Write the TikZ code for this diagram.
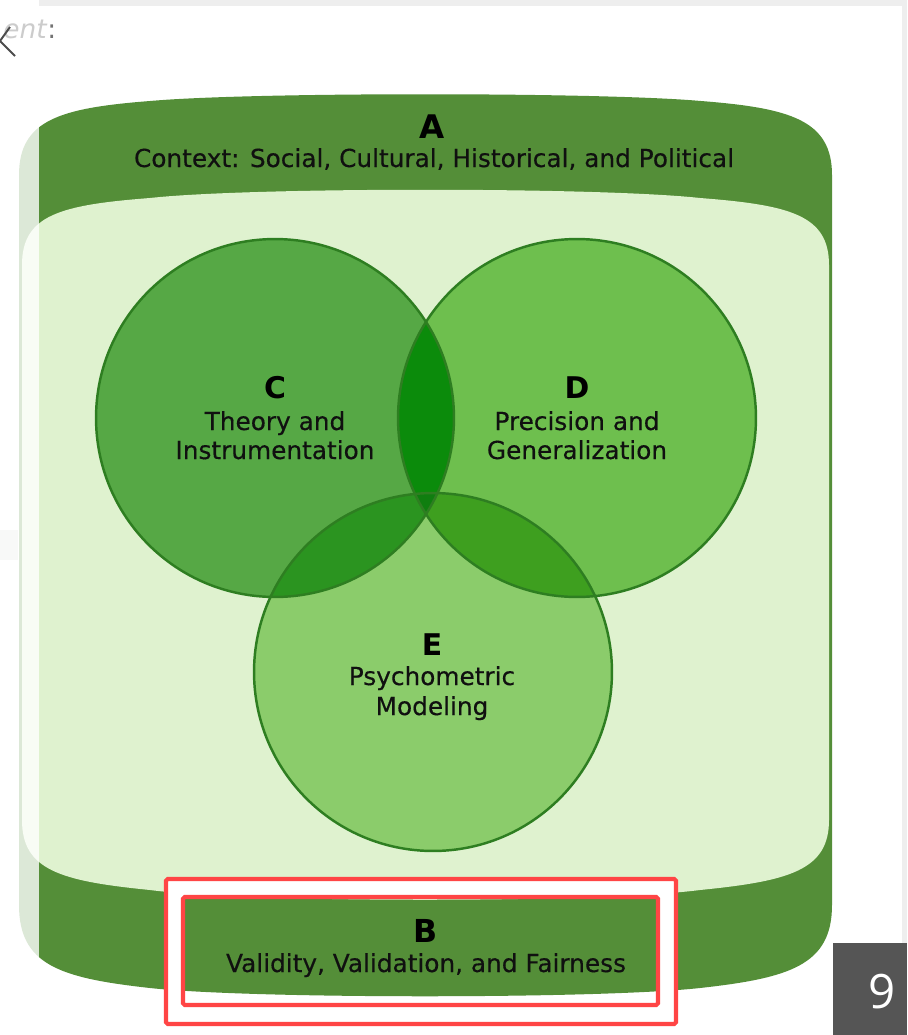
\documentclass[tikz,border=0pt]{standalone}
\usepackage{fontspec}
\setmainfont{DejaVu Sans}
\newfontfamily\uifont{Open Sans}
\newfontfamily\labelfont[FakeBold=0.35]{DejaVu Sans}
\definecolor{band}{HTML}{548E38}
\definecolor{field}{HTML}{DFF2CF}
\definecolor{fillC}{HTML}{56A845}
\definecolor{fillD}{HTML}{6EBF4E}
\definecolor{fillE}{HTML}{8BCC6B}
\definecolor{fillCD}{HTML}{0B8B0B}
\definecolor{fillCE}{HTML}{2B9420}
\definecolor{fillDE}{HTML}{3E9F1F}
\definecolor{fillCDE}{HTML}{0F7E0F}
\definecolor{rim}{HTML}{2E7E21}
\definecolor{ink}{HTML}{101010}
\definecolor{mark}{HTML}{FF4545}
\definecolor{tab}{HTML}{555555}
\definecolor{chrome}{HTML}{EEEEEE}
\definecolor{ghost}{HTML}{DEE5DC}
\tikzset{
  lbl/.style={font=\labelfont\fontsize{14.1}{17}\selectfont, text=ink, inner sep=0pt, anchor=base},
  key/.style={font=\bfseries\fontsize{17}{20}\selectfont, text=black, inner sep=0pt, anchor=base},
  ring/.style={draw=rim, line width=1.4pt},
  redbox/.style={draw=mark, line width=2.3pt, rounded corners=1pt}
}
% outer band (A) and inner field, in pixel-like units
\def\outerpath{(19,175) .. controls (19,120) and (60,108) .. (150,101)
  .. controls (250,92) and (600,92) .. (701,101)
  .. controls (790,108) and (832,120) .. (832,175) -- (832,905)
  .. controls (832,965) and (790,978) .. (700,988)
  .. controls (600,999) and (250,999) .. (150,988)
  .. controls (60,978) and (19,965) .. (19,905) -- cycle}
\def\innerpath{(22,265) .. controls (22,215) and (60,205) .. (150,198)
  .. controls (250,187) and (600,187) .. (700,198)
  .. controls (790,205) and (829,215) .. (829,265) -- (829,820)
  .. controls (829,870) and (790,881) .. (700,890)
  .. controls (600,903) and (250,903) .. (150,890)
  .. controls (60,881) and (22,870) .. (22,820) -- cycle}
\begin{document}
\begin{tikzpicture}[x=0.02cm, y=-0.02cm]
\useasboundingbox (0,0) rectangle (907,1035);
\fill[white] (0,0) rectangle (907,1035);

% browser chrome
\fill[chrome] (39,0) rectangle (907,6);
\fill[chrome] (902,6) rectangle (907,943);
\fill[ghost] (0,530) rectangle (18,560);

% band and field
\fill[band] \outerpath;
\fill[field] \innerpath;

% circle centres
\coordinate (cC) at (275,418);
\coordinate (cD) at (577,418);
\coordinate (cE) at (433,672);
\def\R{3.58cm}

\fill[fillC] (cC) circle[radius=\R];
\fill[fillD] (cD) circle[radius=\R];
\fill[fillE] (cE) circle[radius=\R];
\begin{scope}
  \clip (cC) circle[radius=\R];
  \fill[fillCD] (cD) circle[radius=\R];
  \fill[fillCE] (cE) circle[radius=\R];
\end{scope}
\begin{scope}
  \clip (cD) circle[radius=\R];
  \fill[fillDE] (cE) circle[radius=\R];
  \clip (cC) circle[radius=\R];
  \fill[fillCDE] (cE) circle[radius=\R];
\end{scope}
\draw[ring] (cC) circle[radius=\R];
\draw[ring] (cD) circle[radius=\R];
\draw[ring] (cE) circle[radius=\R];

% labels
\node[key, font=\bfseries\fontsize{18.5}{20}\selectfont] (keyA) at (432,138) {A};
\node[lbl] (txtA) at (434,167) {Context: Social, Cultural, Historical, and Political};

\node[key] (keyC) at (275,398) {C};
\node[lbl] (txtC1) at (275,430) {Theory and};
\node[lbl] (txtC2) at (275,459) {Instrumentation};

\node[key] (keyD) at (577,398) {D};
\node[lbl] (txtD1) at (577,430) {Precision and};
\node[lbl] (txtD2) at (577,459) {Generalization};

\node[key] (keyE) at (432,655) {E};
\node[lbl] (txtE1) at (432,685) {Psychometric};
\node[lbl] (txtE2) at (432,715) {Modeling};

% left side veiled by the next slide
\fill[white, opacity=0.8] (0,90) rectangle (39,1010);

% highlighted region around B
\fill[white] (166,879) rectangle (676,1024);
\begin{scope}
  \clip (183,897) rectangle (658,1005);
  \fill[band] \outerpath;
  \fill[field] \innerpath;
  \fill[band] (0,905) rectangle (907,990);
\end{scope}
\draw[redbox] (166,879) rectangle (676,1024);
\draw[redbox] (183,897) rectangle (658,1005);

\node[key, font=\bfseries\fontsize{18}{20}\selectfont] (keyB) at (426,942) {B};
\node[lbl] (txtB) at (426,972) {Validity, Validation, and Fairness};

% page counter tab
\fill[tab] (833,943) rectangle (907,1035);
\node[font=\uifont\fontsize{27}{30}\selectfont, text=white, inner sep=0pt] (pg) at (882,992) {9};

% top-left fragment of a heading and back chevron
\node[font=\itshape\fontsize{15}{18}\selectfont, text=black!20, inner sep=0pt, anchor=base west] (hd) at (3,38) {ent};
\node[font=\fontsize{15}{18}\selectfont, text=black!55, inner sep=0pt, anchor=base west] (hdc) at (hd.base east) {:};
\draw[black!70, line width=1.1pt] (10,27) -- (0,41) -- (15,56);
\end{tikzpicture}
\end{document}
